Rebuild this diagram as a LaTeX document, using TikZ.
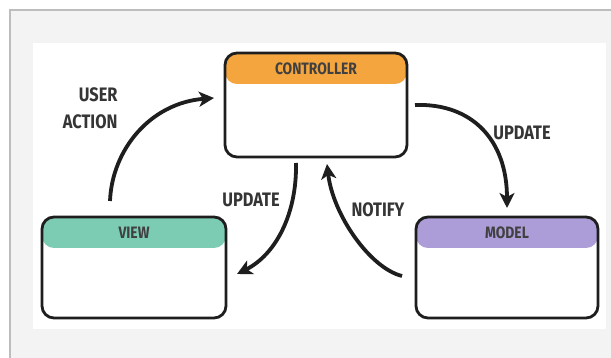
\documentclass[tikz,border=0pt]{standalone}
\usepackage{fontspec}
\usetikzlibrary{arrows.meta}
\newfontfamily\handfont[FakeStretch=0.84]{Fira Sans}
\definecolor{ctrlhead}{HTML}{F5A53E}
\definecolor{viewhead}{HTML}{7CCBB3}
\definecolor{modelhead}{HTML}{AC9CD7}
\definecolor{framebg}{HTML}{F3F3F3}
\definecolor{frameline}{HTML}{BDBDBD}
\definecolor{ink}{HTML}{1E1E1E}
\tikzset{
  mvcbox/.style={draw=ink, line width=2.8pt, rounded corners=12pt, fill=white,
    minimum width=#1, inner sep=0pt},
  headfill/.style={path picture={
      \fill[#1] (path picture bounding box.north west) rectangle
        ([yshift=-31pt]path picture bounding box.north east);}},
  headtext/.style={font=\handfont\bfseries\fontsize{16.5}{16.5}\selectfont, text=ink!85},
  flowlabel/.style={font=\handfont\bfseries\fontsize{19.5}{27}\selectfont, text=ink!90},
  flow/.style={draw=ink, line width=3.8pt,
    -{Stealth[length=15pt, width=15pt, inset=4pt]}},
}
\begin{document}
\begin{tikzpicture}[x=1pt, y=-1pt]
  \useasboundingbox (0,0) rectangle (611,358);
  % page, framed panel and white canvas
  \fill[white] (0,0) rectangle (611,358);
  \fill[framebg] (10,10) rectangle (611,358);
  \draw[frameline, line width=2.6pt] (10,358) -- (10,10) -- (611,10);
  \fill[white] (33,43) rectangle (606,329);

  % the three components
  \node[mvcbox=182pt, minimum height=104pt, headfill=ctrlhead] (ctrl) at (316,105) {};
  \node[mvcbox=184pt, minimum height=101pt, headfill=viewhead] (view) at (134,267.5) {};
  \node[mvcbox=182pt, minimum height=101pt, headfill=modelhead] (model) at (507,267.5) {};

  \node[headtext] (ctrlT) at ([yshift=-17pt]ctrl.north) {CONTROLLER};
  \node[headtext] (viewT) at ([yshift=-17pt]view.north) {VIEW};
  \node[headtext] (modelT) at ([yshift=-17pt]model.north) {MODEL};

  % free ends of the connectors
  \coordinate (uaS) at (110,201);
  \coordinate (uaE) at (214,98);
  \coordinate (umS) at (415,105);
  \coordinate (umE) at (507,208);
  \coordinate (uvS) at (296,163);
  \coordinate (uvE) at (237,274);
  \coordinate (nS) at (402,276);
  \coordinate (nE) at (327,164);

  % connectors
  \draw[flow] (uaS) .. controls (112,150) and (150,103) .. (uaE);
  \draw[flow] (umS) .. controls (472,103) and (507,140) .. (umE);
  \draw[flow] (uvS) .. controls (297,215) and (275,255) .. (uvE);
  \draw[flow] (nS) .. controls (370,268) and (333,215) .. (nE);

  % connector labels
  \node[flowlabel, align=right, anchor=east] (uaL) at (121,108) {USER\\ACTION};
  \node[flowlabel] (umL) at (522,133) {UPDATE};
  \node[flowlabel] (uvL) at (251,200) {UPDATE};
  \node[flowlabel] (nL) at (378,210) {NOTIFY};
\end{tikzpicture}
\end{document}
